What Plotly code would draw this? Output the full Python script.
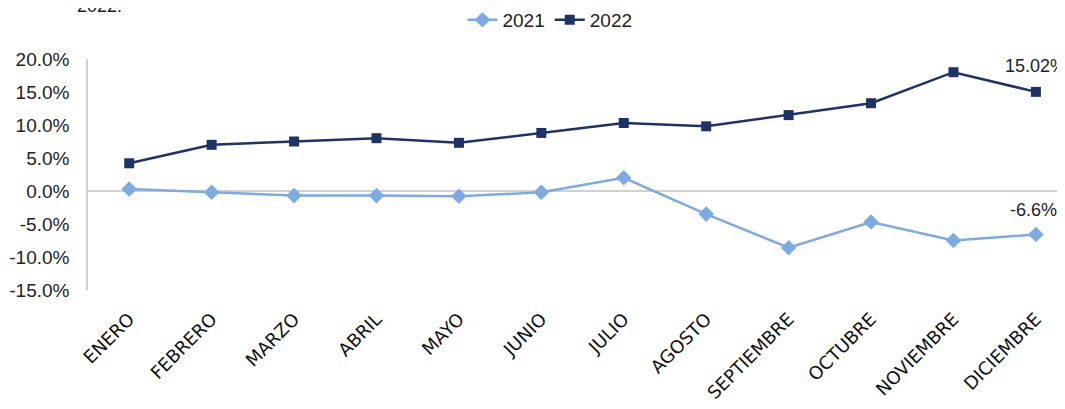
import plotly.graph_objects as go

months = ["ENERO", "FEBRERO", "MARZO", "ABRIL", "MAYO", "JUNIO", "JULIO",
          "AGOSTO", "SEPTIEMBRE", "OCTUBRE", "NOVIEMBRE", "DICIEMBRE"]
v2021 = [0.3, -0.2, -0.7, -0.7, -0.8, -0.2, 2.0, -3.5, -8.6, -4.7, -7.5, -6.6]
v2022 = [4.2, 7.0, 7.5, 8.0, 7.3, 8.8, 10.3, 9.8, 11.5, 13.3, 18.0, 15.02]
ytick_vals = [20, 15, 10, 5, 0, -5, -10, -15]
ytick_text = ["20.0%", "15.0%", "10.0%", "5.0%", "0.0%", "-5.0%", "-10.0%", "-15.0%"]

c2021 = "#7EAADF"
c2022 = "#1F3264"
x = list(range(len(months)))

fig = go.Figure()
fig.add_trace(go.Scatter(x=x, y=v2021, mode="lines+markers", name="2021",
                         line=dict(color=c2021, width=2.5),
                         marker=dict(symbol="diamond", size=12, color=c2021)))
fig.add_trace(go.Scatter(x=x, y=v2022, mode="lines+markers", name="2022",
                         line=dict(color=c2022, width=2.5),
                         marker=dict(symbol="square", size=10, color=c2022)))

lbl_font = dict(size=18, color="#222", family="Liberation Sans")
big_font = dict(size=19, color="#222", family="Liberation Sans")
fig.add_annotation(x=11, y=v2022[-1], text=f"{v2022[-1]:.2f}%", showarrow=False,
                   yshift=26, xshift=0, font=lbl_font)
fig.add_annotation(x=11, y=v2021[-1], text=f"{v2021[-1]:.1f}%", showarrow=False,
                   yshift=25, xshift=-2, font=lbl_font)
fig.add_annotation(xref="paper", yref="paper", x=0.012, y=1.229, text="2022.",
                   showarrow=False, xanchor="center", yanchor="middle",
                   font=lbl_font)

fig.update_layout(
    width=1065, height=409,
    margin=dict(l=80, r=0, t=51, b=127, autoexpand=False),
    paper_bgcolor="white", plot_bgcolor="white",
    showlegend=True,
    legend=dict(orientation="h", x=0.469, y=1.169, xanchor="center", yanchor="middle",
                font=big_font, bgcolor="rgba(0,0,0,0)"),
    xaxis=dict(range=[-0.5, 11.45], tickmode="array", tickvals=x, ticktext=months,
               tickangle=-45, showgrid=False, zeroline=False, showline=False,
               ticks="", automargin=False, ticklabelstandoff=14,
               tickfont=dict(size=18, color="#111", family="DejaVu Sans")),
    yaxis=dict(range=[-15, 20], tickmode="array", tickvals=ytick_vals, ticktext=ytick_text,
               showgrid=False, zeroline=True, zerolinecolor="#D0D0D0", zerolinewidth=1.5,
               showline=True, linecolor="#D0D0D0", linewidth=1.5, ticks="",
               ticklabelstandoff=13, automargin=False,
               tickfont=big_font),
)

fig.write_html("out.html")
